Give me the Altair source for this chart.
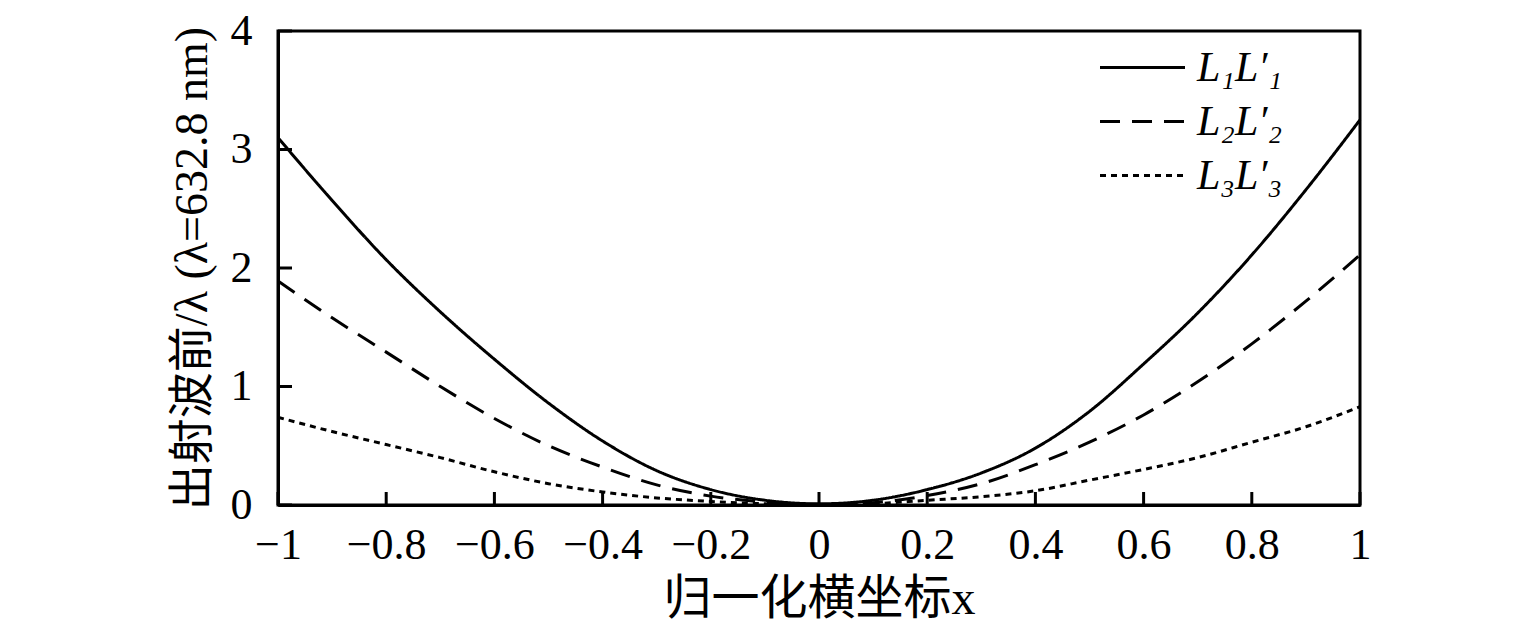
import altair as alt
import pandas as pd

xs = [-1.0, -0.9, -0.8, -0.7, -0.6, -0.5, -0.4, -0.3, -0.2, -0.1, 0.0,
      0.1, 0.2, 0.3, 0.4, 0.5, 0.6, 0.7, 0.8, 0.9, 1.0]
l1 = [3.10, 2.57, 2.07, 1.63, 1.23, 0.86, 0.54, 0.29, 0.13, 0.04, 0.01,
      0.04, 0.13, 0.27, 0.48, 0.79, 1.19, 1.62, 2.11, 2.66, 3.25]
l2 = [1.89, 1.58, 1.29, 1.00, 0.73, 0.50, 0.32, 0.17, 0.075, 0.025, 0.005,
      0.02, 0.08, 0.18, 0.34, 0.53, 0.76, 1.04, 1.36, 1.72, 2.11]
l3 = [0.74, 0.62, 0.51, 0.40, 0.28, 0.18, 0.11, 0.06, 0.03, 0.01, 0.0,
      0.01, 0.04, 0.07, 0.12, 0.21, 0.30, 0.40, 0.53, 0.66, 0.83]
series_names = ["L\u2081L\u2032\u2081", "L\u2082L\u2032\u2082", "L\u2083L\u2032\u2083"]
x_ticks = [-1, -0.8, -0.6, -0.4, -0.2, 0, 0.2, 0.4, 0.6, 0.8, 1]
y_ticks = [0, 1, 2, 3, 4]

rows = []
for name, vals in zip(series_names, [l1, l2, l3]):
    for xv, yv in zip(xs, vals):
        rows.append({"x": xv, "y": yv, "s": name})
df = pd.DataFrame(rows)

W, H = 1082, 474
FONT = "'Liberation Serif', 'Times New Roman', 'Noto Sans CJK SC', serif"
xscale = alt.Scale(domain=[-1, 1], nice=False, zero=False)
yscale = alt.Scale(domain=[0, 4], nice=False)

x_axis = alt.Axis(values=x_ticks, format="~g", title="归一化横坐标x",
                  ticks=False, labelPadding=18, titlePadding=8, labelFlush=False,
                  labelFontSize=44, titleFontSize=48)
y_axis = alt.Axis(values=y_ticks, format="~g", title="出射波前/λ (λ=632.8 nm)",
                  ticks=False, labelPadding=26, titlePadding=14, labelFlush=False,
                  labelFontSize=44, titleFontSize=46)

lines = alt.Chart(df).mark_line(color="black", strokeWidth=3, interpolate="monotone").encode(
    x=alt.X("x:Q", scale=xscale, axis=x_axis),
    y=alt.Y("y:Q", scale=yscale, axis=y_axis),
    strokeDash=alt.StrokeDash("s:N",
                              scale=alt.Scale(domain=series_names,
                                              range=[[1, 0], [20, 12], [6, 5]]),
                              legend=alt.Legend(title=None, orient="none", legendX=843, legendY=15,
                                                symbolType="M-2.125,0H2.125", symbolSize=1600,
                                                symbolStrokeWidth=3, symbolStrokeColor="black",
                                                symbolFillColor="transparent",
                                                labelFont=FONT, labelFontSize=42,
                                                labelFontStyle="italic", labelColor="black",
                                                labelOffset=33, rowPadding=11, padding=0)),
)

xt = pd.DataFrame({"x": x_ticks})
yt = pd.DataFrame({"y": y_ticks})

xtick_marks = alt.Chart(xt).mark_rule(color="black", strokeWidth=3).encode(
    x=alt.X("x:Q", scale=xscale, axis=x_axis),
    y=alt.value(H), y2=alt.value(H - 13),
)
ytick_marks = alt.Chart(yt).mark_rule(color="black", strokeWidth=3).encode(
    y=alt.Y("y:Q", scale=yscale, axis=y_axis),
    x=alt.value(0), x2=alt.value(14),
)

chart = alt.layer(lines, xtick_marks, ytick_marks).properties(
    width=W, height=H,
    padding={"left": 270, "top": 23, "right": 150, "bottom": 127},
    autosize=alt.AutoSizeParams(type="none"),
).configure_view(
    stroke="black", strokeWidth=3
).configure_axis(
    grid=False, domainColor="black", domainWidth=3,
    labelColor="black", titleColor="black",
    labelFont=FONT, titleFont=FONT, titleFontWeight="normal",
)

chart.save("out.html", embed_options={"renderer": "svg", "actions": False})
